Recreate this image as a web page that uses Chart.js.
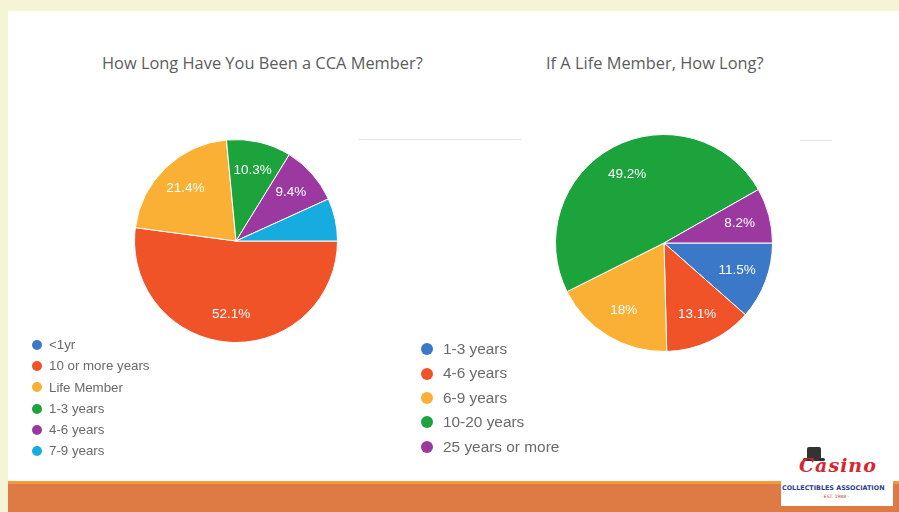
<!DOCTYPE html>
<html>
<head>
<meta charset="utf-8">
<script src="https://cdn.jsdelivr.net/npm/chart.js@4.4.0/dist/chart.umd.min.js"></script>
<style>
  html, body { margin: 0; padding: 0; }
  body { width: 899px; height: 512px; background: #f5f5d6; position: relative; overflow: hidden; }
  #panel { position: absolute; left: 8px; top: 11px; width: 891px; height: 470px; background: #fff; }
  #bar { position: absolute; left: 8px; top: 481px; width: 891px; height: 31px; background: #de7b45; border-top: 3px solid #f39a3a; box-sizing: border-box; }
  .title { position: absolute; font-family: "Open Sans", sans-serif; font-size: 16.4px; color: #5c5c5c; white-space: nowrap; }
  .rule { position: absolute; height: 1px; background: #ece6df; }
  canvas { position: absolute; }
  .legend { position: absolute; font-family: "Liberation Sans", Arial, sans-serif; color: #6a6a6a; }
  .legend div { position: relative; white-space: nowrap; }
  .legend span { position: absolute; border-radius: 50%; }
  #logo { position: absolute; left: 781px; top: 466px; width: 112px; height: 40px; background: #fff; }
  #logo .casino { position: absolute; left: 18px; top: -12px; font-family: "DejaVu Serif", serif; font-style: italic; font-weight: bold; font-size: 19px; color: #d8262e; letter-spacing: 1px; }
  #logo .assoc { position: absolute; left: 1px; top: 18px; font-family: "DejaVu Sans", sans-serif; font-weight: bold; font-size: 6.4px; color: #2a3f8f; white-space: nowrap; }
  #logo .est { position: absolute; left: 40px; top: 28px; font-family: "DejaVu Sans", sans-serif; font-size: 4.5px; color: #c0392b; white-space: nowrap; }
  #hat { position: absolute; left: 807px; top: 447px; width: 14px; height: 12px; background: #333; border-radius: 2px 2px 0 0; }
  #hatbrim { position: absolute; left: 803px; top: 458px; width: 22px; height: 3px; background: #333; border-radius: 2px; }
</style>
</head>
<body>
<div id="panel"></div>
<div class="rule" style="left:358px; top:139px; width:164px;"></div>
<div class="rule" style="left:800px; top:140px; width:32px;"></div>
<div class="title" id="t1" style="left:102px; top:51px;">How Long Have You Been a CCA Member?</div>
<div class="title" id="t2" style="left:546px; top:51px;">If A Life Member, How Long?</div>
<canvas id="pie1" width="240" height="240" style="left:116px; top:121px;"></canvas>
<canvas id="pie2" width="240" height="240" style="left:544px; top:123px;"></canvas>
<div class="legend" id="leg1" style="left:32px; top:334px; font-size:13.3px;"></div>
<div class="legend" id="leg2" style="left:421px; top:337px; font-size:15.4px;"></div>
<div id="bar"></div>
<div id="hat"></div><div id="hatbrim"></div>
<div id="logo">
  <div class="casino">Casino</div>
  <div class="assoc">COLLECTIBLES ASSOCIATION</div>
  <div class="est">· EST. 1988 ·</div>
</div>
<script>
// left chart
const memberLabels = ['<1yr', '10 or more years', 'Life Member', '1-3 years', '4-6 years', '7-9 years'];
const memberValues = [0, 52.1, 21.4, 10.3, 9.4, 6.8];
const memberColors = ['#3b78c8', '#ef5327', '#f9b035', '#1ca33b', '#9b39a0', '#16ace0'];

// right chart
const lifeLabels = ['1-3 years', '4-6 years', '6-9 years', '10-20 years', '25 years or more'];
const lifeValues = [11.5, 13.1, 18, 49.2, 8.2];
const lifeColors = ['#3b78c8', '#ef5327', '#f9b035', '#1ca33b', '#9b39a0'];

// percent text inside slices
const sliceText = {
  id: 'sliceText',
  afterDatasetsDraw(chart) {
    const ctx = chart.ctx;
    const meta = chart.getDatasetMeta(0);
    const vals = chart.data.datasets[0].data;
    ctx.save();
    ctx.fillStyle = '#fff';
    ctx.font = '13.5px "Liberation Sans", Arial, sans-serif';
    ctx.textAlign = 'center';
    ctx.textBaseline = 'middle';
    meta.data.forEach((arc, i) => {
      if (vals[i] < 7) return;
      const p = arc.getProps(['x', 'y', 'startAngle', 'endAngle', 'outerRadius'], true);
      const a = (p.startAngle + p.endAngle) / 2;
      const r = p.outerRadius * 0.72;
      ctx.fillText(vals[i] + '%', p.x + Math.cos(a) * r, p.y + Math.sin(a) * r);
    });
    ctx.restore();
  }
};

function makePie(id, labels, values, colors, pad) {
  return new Chart(document.getElementById(id), {
    type: 'pie',
    data: {
      labels: labels,
      datasets: [{
        data: values,
        backgroundColor: colors,
        borderColor: '#fff',
        borderWidth: 1
      }]
    },
    options: {
      responsive: false,
      animation: false,
      rotation: 90,
      layout: { padding: pad },
      plugins: {
        legend: { display: false },
        tooltip: { enabled: false }
      }
    },
    plugins: [sliceText]
  });
}

function makeLegend(id, labels, colors, rowH, dot, gap) {
  const el = document.getElementById(id);
  labels.forEach((lab, i) => {
    const row = document.createElement('div');
    row.style.height = rowH + 'px';
    row.style.lineHeight = rowH + 'px';
    row.style.paddingLeft = (dot + gap) + 'px';
    const s = document.createElement('span');
    s.style.width = dot + 'px';
    s.style.height = dot + 'px';
    s.style.left = '0px';
    s.style.top = ((rowH - dot) / 2) + 'px';
    s.style.background = colors[i];
    row.appendChild(s);
    row.appendChild(document.createTextNode(lab));
    el.appendChild(row);
  });
}

makePie('pie1', memberLabels, memberValues, memberColors, 18);
makePie('pie2', lifeLabels, lifeValues, lifeColors, 11);
makeLegend('leg1', memberLabels, memberColors, 21.3, 10, 7);
makeLegend('leg2', lifeLabels, lifeColors, 24.4, 12, 10);
</script>
</body>
</html>
